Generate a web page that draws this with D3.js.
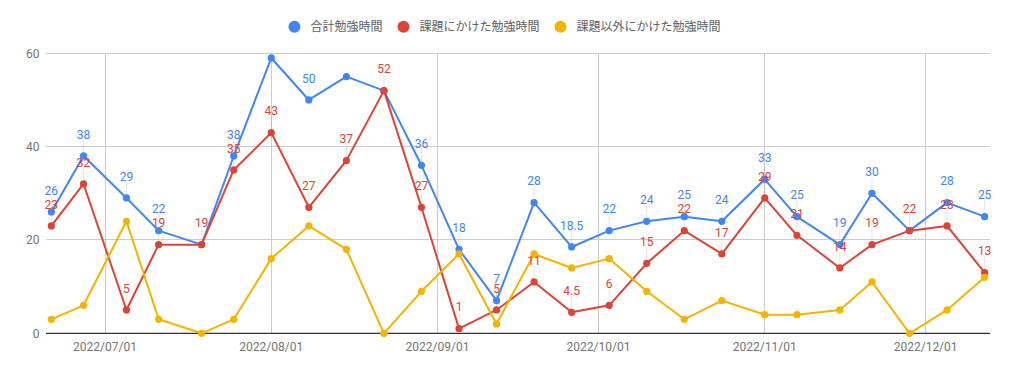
<!DOCTYPE html>
<html><head><meta charset="utf-8">
<script src="https://cdn.jsdelivr.net/npm/d3@7"></script>
<style>
html,body{margin:0;padding:0;background:#fff;}
svg{display:block;font-family:Roboto,"Noto Sans CJK JP",sans-serif;}
</style></head>
<body><svg id="c" width="1009" height="373"></svg>
<script>
const dates = ["2022-06-21","2022-06-27","2022-07-05","2022-07-11","2022-07-19","2022-07-25","2022-08-01","2022-08-08","2022-08-15","2022-08-22","2022-08-29","2022-09-05","2022-09-12","2022-09-19","2022-09-26","2022-10-03","2022-10-10","2022-10-17","2022-10-24","2022-11-01","2022-11-07","2022-11-15","2022-11-21","2022-11-28","2022-12-05","2022-12-12"];
const totalHours      = [26,38,29,22,19,38,59,50,55,52,36,18,7,28,18.5,22,24,25,24,33,25,19,30,22,28,25];
const assignmentHours = [23,32,5,19,19,35,43,27,37,52,27,1,5,11,4.5,6,15,22,17,29,21,14,19,22,23,13];
const otherHours      = [3,6,24,3,0,3,16,23,18,0,9,17,2,17,14,16,9,3,7,4,4,5,11,0,5,12];
// annotations shown in the chart (null = hidden)
const totalLabels      = [26,38,29,22,null,38,null,50,null,null,36,18,7,28,18.5,22,24,25,24,33,25,19,30,null,28,25];
const assignmentLabels = [23,32,5,19,19,35,43,27,37,52,27,1,5,11,4.5,6,15,22,17,29,21,14,19,22,23,13];
const otherLabels      = dates.map(() => null);
const seriesNames = ["合計勉強時間","課題にかけた勉強時間","課題以外にかけた勉強時間"];
const yTicks = [0,20,40,60];

const colors = ["#4285F4","#DB4437","#F4B400"];
const parse = d3.timeParse("%Y-%m-%d");
const xDates = dates.map(parse);
const series = [
  {name: seriesNames[0], values: totalHours, labels: totalLabels, color: colors[0]},
  {name: seriesNames[1], values: assignmentHours, labels: assignmentLabels, color: colors[1]},
  {name: seriesNames[2], values: otherHours, labels: otherLabels, color: colors[2]}
];

const svg = d3.select("#c");
const L = 46, R = 990, T = 53.3, B = 333.3;
const ext = d3.extent(xDates);
const x = d3.scaleTime().domain([d3.timeDay.offset(ext[0], -1), d3.timeDay.offset(ext[1], 1)]).range([L, R]);
const y = d3.scaleLinear().domain([0, 60]).range([B, T]);

// gridlines
const monthTicks = d3.timeMonth.range(d3.timeMonth.ceil(x.domain()[0]), x.domain()[1]);
svg.append("g").selectAll("line.h").data(yTicks.filter(v => v !== 0)).join("line")
  .attr("x1", L).attr("x2", R).attr("y1", d => y(d)).attr("y2", d => y(d))
  .attr("stroke", "#cccccc").attr("stroke-width", 1).attr("shape-rendering", "crispEdges");
svg.append("g").selectAll("line.v").data(monthTicks).join("line")
  .attr("x1", d => x(d)).attr("x2", d => x(d)).attr("y1", T).attr("y2", B)
  .attr("stroke", "#cccccc").attr("stroke-width", 1).attr("shape-rendering", "crispEdges");

// y labels
svg.append("g").selectAll("text").data(yTicks).join("text")
  .attr("x", 39.5).attr("y", d => y(d) + 4.3).attr("text-anchor", "end")
  .attr("font-size", 12).attr("fill", "#757575").text(d => d);

// x labels
const fmt = d3.timeFormat("%Y/%m/%d");
svg.append("g").selectAll("text").data(monthTicks).join("text")
  .attr("x", d => x(d)).attr("y", 351).attr("text-anchor", "middle")
  .attr("font-size", 12).attr("fill", "#757575").text(d => fmt(d));

// baseline
svg.append("line").attr("x1", L).attr("x2", R).attr("y1", y(0)).attr("y2", y(0))
  .attr("stroke", "#333333").attr("stroke-width", 1.3);

// stems (under lines)
const stemG = svg.append("g");
series.forEach(s => {
  s.values.forEach((v, i) => {
    if (s.labels[i] == null) return;
    stemG.append("line").attr("x1", x(xDates[i])).attr("x2", x(xDates[i]))
      .attr("y1", y(v) - 4).attr("y2", y(v) - 16)
      .attr("stroke", "#999").attr("stroke-opacity", 0.25).attr("stroke-width", 1);
  });
});

// lines + points
const line = d3.line().x((d, i) => x(xDates[i])).y(d => y(d));
series.forEach(s => {
  const g = svg.append("g");
  g.append("path").datum(s.values).attr("d", line).attr("fill", "none")
    .attr("stroke", s.color).attr("stroke-width", 2).attr("stroke-linejoin", "round");
  g.selectAll("circle").data(s.values).join("circle")
    .attr("cx", (d, i) => x(xDates[i])).attr("cy", d => y(d)).attr("r", 3.6)
    .attr("fill", s.color);
});

// annotations
series.forEach(s => {
  svg.append("g").selectAll("text").data(s.values.map((v, i) => ({v, i, l: s.labels[i]})).filter(d => d.l != null))
    .join("text")
    .attr("x", d => x(xDates[d.i])).attr("y", d => y(d.v) - 17.3)
    .attr("text-anchor", "middle").attr("font-size", 12).attr("fill", s.color)
    .text(d => d.l);
});

// legend
const lg = svg.append("g");
let cx = 0;
const items = [];
series.forEach((s, k) => {
  const it = lg.append("g");
  it.append("circle").attr("cx", cx + 6).attr("cy", 26.7).attr("r", 6).attr("fill", s.color);
  const t = it.append("text").attr("x", cx + 22).attr("y", 31).attr("font-size", 12)
    .attr("fill", "#5f5f5f").text(s.name);
  const w = t.node().getComputedTextLength();
  cx = cx + 22 + w + 15;
});
const totalW = cx - 15;
lg.attr("transform", `translate(${504.5 - totalW / 2},0)`);
</script></body></html>
